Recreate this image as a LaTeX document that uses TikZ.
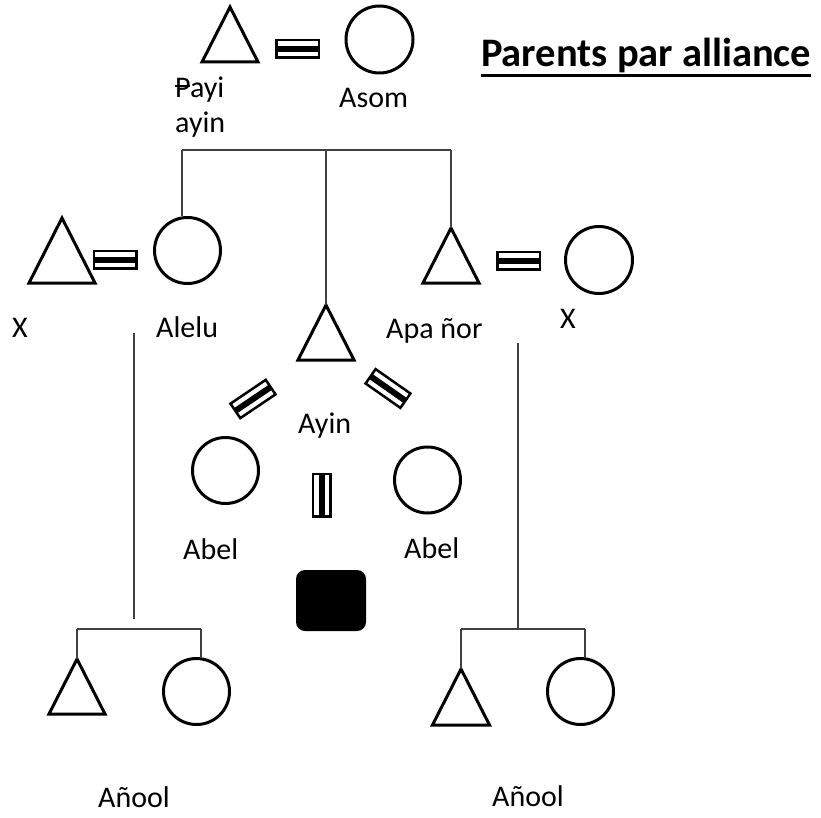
\documentclass[tikz,border=0pt]{standalone}
\usepackage{fontspec}
\setmainfont{Carlito}
\newcommand\eqmark[3]{%
  \begin{scope}[shift={#2}, rotate=#3, transform shape]
    \node[eqbox] (#1) at (0,0) {};
    \fill[black] (-21.25,-3) rectangle (21.25,3);
  \end{scope}}
\begin{document}
\begin{tikzpicture}[x=1pt, y=-1pt,
  shp/.style={draw=black, line width=3pt, line join=miter},
  circ/.style={circle, draw=black, line width=3pt, minimum size=66pt, inner sep=0pt},
  conn/.style={draw=black!75, line width=1.2pt},
  eqbox/.style={rectangle, draw=black, line width=2.5pt, fill=white, minimum width=42.5pt, minimum height=17.5pt, inner sep=0pt},
  lbl/.style={anchor=base west, inner sep=0pt, font=\fontsize{30}{35}\selectfont},
  blk/.style={rectangle, rounded corners=9pt, fill=black, minimum width=70pt, minimum height=61pt, inner sep=0pt}]
\useasboundingbox[fill=white] (0,0) rectangle (821,818);

% title
\node[anchor=base west, inner sep=0pt, font=\fontsize{40.5}{46}\selectfont\bfseries] (title) at (481,67) {Parents par alliance};
\draw[line width=2.5pt] ([yshift=-8.5pt]title.base west) -- ([yshift=-8.5pt]title.base east);

% top couple
\draw[shp] (230,7) coordinate (tPayi) -- (258,62) -- (202,62) -- cycle;
\eqmark{eqTop}{(297.5,49)}{0}
\node[circ, minimum size=67pt] (asom) at (379.5,39.5) {};
\node[lbl] (lPayi) at (175,98) {\makebox[0pt][l]{\rule[0.36em]{0.5em}{0.07em}}Payi};
\node[lbl] (lPayi2) at (175,133) {ayin};
\node[lbl] (lAsom) at (339,108) {Asom};

% children bar
\coordinate (b1) at (182,150);
\coordinate (b2) at (326,150);
\coordinate (b3) at (451,150);
\draw[conn] (b1) -- (b3);

% left couple
\draw[shp] (62,218) coordinate (tX) -- (95,283) -- (29,283) -- cycle;
\eqmark{eqLeft}{(115,259.5)}{0}
\node[circ] (alelu) at (187.5,250.5) {};
\draw[conn] (b1) -- (b1 |- alelu.north);
\node[lbl] (lX1) at (12,337) {X};
\node[lbl] (lAlelu) at (156,337) {Alelu};

% centre: Ayin
\draw[shp] (326,305) coordinate (tAyin) -- (354,360) -- (298,360) -- cycle;
\draw[conn] (b2) -- (tAyin);
\node[lbl] (lAyin) at (298,433) {Ayin};
\eqmark{eqDL}{(253,399)}{34}
\eqmark{eqDR}{(388,388.5)}{-35}
\eqmark{eqV}{(321.5,495)}{90}
\node[circ] (abel1) at (225.5,470.5) {};
\node[circ] (abel2) at (427.5,480) {};
\node[lbl] (lAbel1) at (183,559) {Abel};
\node[lbl] (lAbel2) at (404,558) {Abel};
\node[blk] (child) at (331,600.5) {};

% right couple
\draw[shp] (451,228) coordinate (tApa) -- (479,283) -- (423,283) -- cycle;
\draw[conn] (b3) -- (tApa);
\eqmark{eqRight}{(518.5,260.5)}{0}
\node[circ, minimum size=67pt] (xw) at (599,260) {};
\node[lbl] (lApa) at (386,338) {Apa ñor};
\node[lbl] (lX2) at (560,328) {X};

% left descent
\coordinate (l1) at (134,333);
\coordinate (l2) at (134,619);
\draw[conn] (l1) -- (l2);
\coordinate (lb1) at (77,629);
\coordinate (lb2) at (201,629);
\draw[conn] (lb1) -- (lb2);
\draw[shp] (77,659) coordinate (tL) -- (105,714) -- (49,714) -- cycle;
\node[circ] (cL) at (196.5,691.5) {};
\draw[conn] (lb1) -- (tL);
\draw[conn] (lb2) -- (lb2 |- cL.north);
\node[lbl] (lAnoolL) at (98,807) {Añool};

% right descent
\coordinate (r1) at (518,343);
\coordinate (rb0) at (518,629);
\coordinate (rb1) at (461,629);
\coordinate (rb2) at (585,629);
\draw[conn] (r1) -- (rb0);
\draw[conn] (rb1) -- (rb2);
\draw[shp] (461,669) coordinate (tR) -- (489.5,725) -- (432.5,725) -- cycle;
\node[circ] (cR) at (580.5,691.5) {};
\draw[conn] (rb1) -- (tR);
\draw[conn] (rb2) -- (rb2 |- cR.north);
\node[lbl] (lAnoolR) at (492,806) {Añool};
\end{tikzpicture}
\end{document}
